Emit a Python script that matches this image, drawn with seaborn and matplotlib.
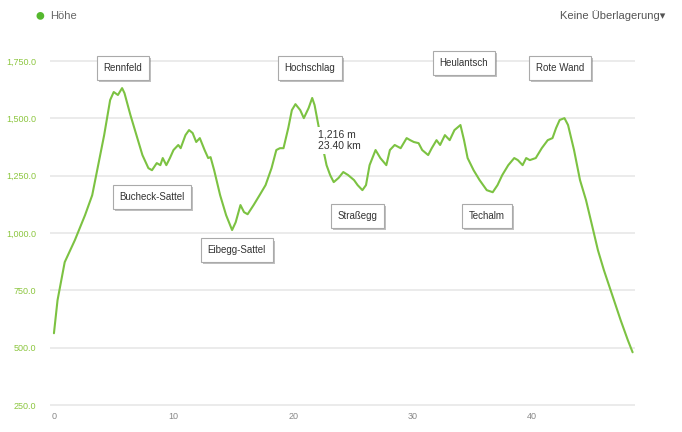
import pandas as pd
import matplotlib.pyplot as plt
import matplotlib.patheffects as pe
import seaborn as sn

# elevation profile (km, m)
km = [0.0, 0.3, 0.9, 1.75, 2.6, 3.2, 3.7, 4.2, 4.7, 5.0, 5.35, 5.7, 5.9, 6.4, 6.9, 7.4, 7.9, 8.2,
      8.6, 8.9, 9.1, 9.4, 9.7, 10.0, 10.4, 10.6, 11.0, 11.3, 11.6, 11.9, 12.2, 12.6, 12.9, 13.1,
      13.4, 13.9, 14.4, 14.9, 15.2, 15.6, 15.9, 16.2, 16.7, 17.2, 17.7, 18.2, 18.6, 18.9, 19.2,
      19.6, 19.9, 20.2, 20.6, 20.9, 21.3, 21.6, 21.8, 22.3, 22.8, 23.1, 23.4, 23.8, 24.2, 24.6,
      25.1, 25.4, 25.8, 26.1, 26.4, 26.9, 27.3, 27.8, 28.1, 28.5, 29.0, 29.5, 29.8, 30.1, 30.5,
      30.8, 31.3, 31.6, 32.0, 32.3, 32.7, 33.1, 33.5, 34.0, 34.3, 34.6, 35.1, 35.6, 36.2, 36.7,
      37.1, 37.5, 38.0, 38.5, 38.8, 39.2, 39.5, 39.8, 40.3, 40.8, 41.3, 41.7, 42.0, 42.3, 42.7,
      43.0, 43.5, 44.0, 44.5, 45.0, 45.5, 46.0, 46.7, 47.4, 48.0, 48.4]
hoehe = [563, 707, 873, 969, 1078, 1165, 1296, 1427, 1580, 1615, 1602, 1632, 1610, 1514, 1427,
         1340, 1283, 1274, 1305, 1296, 1327, 1296, 1327, 1362, 1384, 1370, 1427, 1449, 1436, 1397,
         1414, 1362, 1327, 1331, 1274, 1165, 1078, 1013, 1047, 1122, 1091, 1082, 1122, 1165, 1209,
         1283, 1362, 1370, 1370, 1458, 1536, 1562, 1536, 1501, 1545, 1589, 1558, 1420, 1296, 1253,
         1222, 1240, 1266, 1253, 1231, 1209, 1187, 1209, 1296, 1362, 1327, 1296, 1362, 1384, 1370,
         1414, 1405, 1397, 1392, 1362, 1340, 1370, 1405, 1384, 1427, 1405, 1449, 1471, 1405, 1327,
         1274, 1231, 1187, 1178, 1209, 1253, 1296, 1327, 1318, 1296, 1327, 1318, 1327, 1370, 1405,
         1414, 1458, 1493, 1501, 1471, 1362, 1231, 1144, 1035, 925, 838, 729, 620, 533, 480]

orte = ['Rennfeld', 'Hochschlag', 'Heulantsch', 'Rote Wand',
        'Bucheck-Sattel', 'Eibegg-Sattel', 'Straßegg', 'Techalm']
orte_km = [5.77, 21.4, 34.3, 42.3, 8.2, 15.3, 25.4, 36.2]
orte_m = [1719, 1719, 1741, 1719, 1157, 925, 1074, 1074]

yticks = [250, 500, 750, 1000, 1250, 1500, 1750]
xticks = [0, 10, 20, 30, 40]

df = pd.DataFrame({'km': km, 'Höhe': hoehe})

sn.set_style('white')
plt.rcParams['font.family'] = ['Liberation Sans Narrow', 'Liberation Sans', 'DejaVu Sans']

fig = plt.figure(figsize=(6.82, 4.32), dpi=100)
ax = fig.add_axes([50 / 682, 24 / 432, 585 / 682, 363 / 432])

sn.lineplot(data=df, x='km', y='Höhe', color='#7cc242', linewidth=1.5, ax=ax)

ax.set_xlim(-0.33, 48.6)
ax.set_ylim(237, 1820)
ax.set_yticks(yticks)
ax.set_yticklabels(['{:,.1f}'.format(v) for v in yticks], color='#8cc63f', fontsize=6.5)
ax.set_xticks(xticks)
ax.set_xticklabels([str(v) for v in xticks], color='#888888', fontsize=6.5)
ax.tick_params(axis='y', length=0, pad=10)
ax.tick_params(axis='x', length=0, pad=3)
ax.grid(axis='y', color='#e8e8e8', linewidth=1.2)
ax.set_xlabel('')
ax.set_ylabel('')
for s in ax.spines.values():
    s.set_visible(False)

for name, x, y in zip(orte, orte_km, orte_m):
    t = ax.text(x, y, name, ha='center', va='center', fontsize=7, color='#333333',
                bbox=dict(boxstyle='square,pad=0.7', fc='white', ec='#aaaaaa', lw=0.8))
    t.get_bbox_patch().set_path_effects([pe.SimplePatchShadow(offset=(1.5, -1.5), alpha=0.35),
                                         pe.Normal()])

# tooltip (covers the line behind it)
ax.text(22.1, 1405, '1,216 m\n23.40 km', ha='left', va='center', fontsize=7.5,
        color='#333333', linespacing=1.2, zorder=5,
        bbox=dict(boxstyle='square,pad=0.25', fc='white', ec='none'))

# header
fig.text(35 / 682, 1 - 16 / 432, '●', color='#55b82e', fontsize=13, ha='left', va='center')
fig.text(50 / 682, 1 - 16 / 432, 'Höhe', color='#666666', fontsize=8, ha='left', va='center')
fig.text(665 / 682, 1 - 16 / 432, 'Keine Überlagerung▾', color='#555555', fontsize=8,
         ha='right', va='center')

fig.savefig('out.png', dpi=100)
